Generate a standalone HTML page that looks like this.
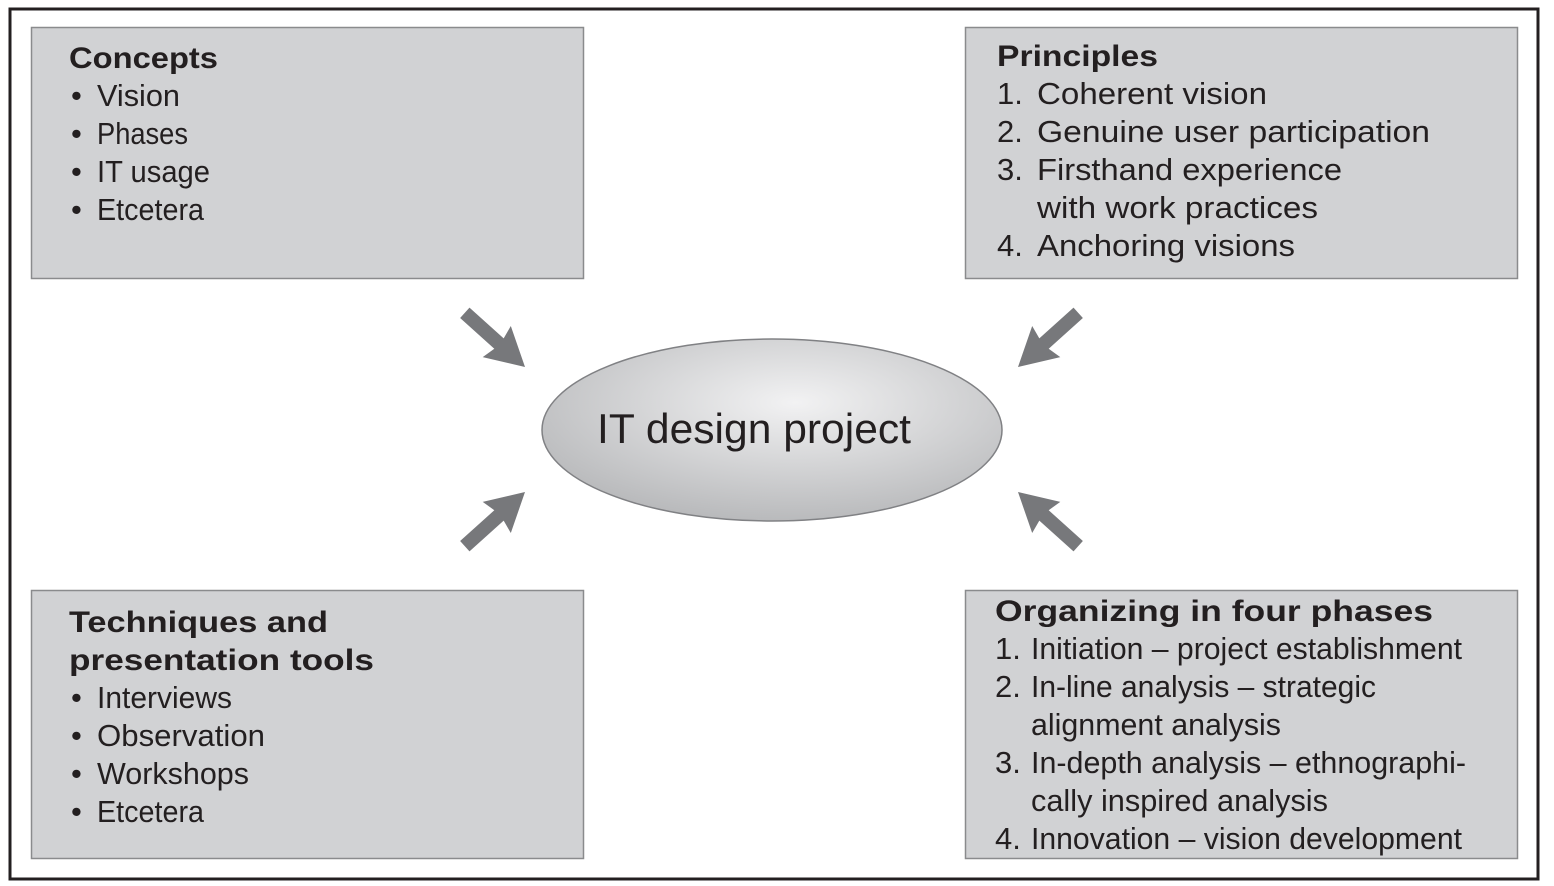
<!DOCTYPE html>
<html><head><meta charset="utf-8"><style>
html,body{margin:0;padding:0;background:#fff;}
svg{display:block;}
text{font-family:"Liberation Sans",sans-serif;fill:#231f20;}
.r{font-size:31px;}
.b{font-size:30px;font-weight:bold;}
</style></head><body>
<svg width="1554" height="886" viewBox="0 0 1554 886" xmlns="http://www.w3.org/2000/svg">
<defs>
<radialGradient id="g" cx="55%" cy="35%" r="65%">
<stop offset="0" stop-color="#f2f2f3"/>
<stop offset="1" stop-color="#b9babc"/>
</radialGradient>
<polygon id="ar" points="-81,-7 -35,-7 -38,-21 0,0 -38,21 -35,7 -81,7" fill="#77787b"/>
</defs>
<rect x="10" y="9" width="1528" height="870" fill="#fff" stroke="#231f20" stroke-width="3"/>
<rect x="31.5" y="27.5" width="552" height="251" fill="#d1d2d4" stroke="#8a8b8d" stroke-width="1.5"/>
<rect x="965.5" y="27.5" width="552" height="251" fill="#d1d2d4" stroke="#8a8b8d" stroke-width="1.5"/>
<rect x="31.5" y="590.5" width="552" height="268" fill="#d1d2d4" stroke="#8a8b8d" stroke-width="1.5"/>
<rect x="965.5" y="590.5" width="552" height="268" fill="#d1d2d4" stroke="#8a8b8d" stroke-width="1.5"/>
<ellipse cx="772" cy="430" rx="230" ry="91" fill="url(#g)" stroke="#808184" stroke-width="1.5"/>
<text x="597" y="443" style="font-size:42px" textLength="314" lengthAdjust="spacingAndGlyphs">IT design project</text>
<use href="#ar" transform="translate(525,367) rotate(42)"/>
<use href="#ar" transform="translate(1018,367) rotate(138)"/>
<use href="#ar" transform="translate(525,492) rotate(-42)"/>
<use href="#ar" transform="translate(1018,492) rotate(-138)"/>

<g lengthAdjust="spacingAndGlyphs">
<text class="b" x="69" y="68" textLength="149" lengthAdjust="spacingAndGlyphs">Concepts</text>
<text class="r" x="71" y="106">•</text><text class="r" x="97" y="106" textLength="83" lengthAdjust="spacingAndGlyphs">Vision</text>
<text class="r" x="71" y="144">•</text><text class="r" x="97" y="144" textLength="91" lengthAdjust="spacingAndGlyphs">Phases</text>
<text class="r" x="71" y="182">•</text><text class="r" x="97" y="182" textLength="113" lengthAdjust="spacingAndGlyphs">IT usage</text>
<text class="r" x="71" y="220">•</text><text class="r" x="97" y="220" textLength="107" lengthAdjust="spacingAndGlyphs">Etcetera</text>

<text class="b" x="997" y="66" textLength="161" lengthAdjust="spacingAndGlyphs">Principles</text>
<text class="r" x="997" y="104">1.</text><text class="r" x="1037" y="104" textLength="230" lengthAdjust="spacingAndGlyphs">Coherent vision</text>
<text class="r" x="997" y="142">2.</text><text class="r" x="1037" y="142" textLength="393" lengthAdjust="spacingAndGlyphs">Genuine user participation</text>
<text class="r" x="997" y="180">3.</text><text class="r" x="1037" y="180" textLength="305" lengthAdjust="spacingAndGlyphs">Firsthand experience</text>
<text class="r" x="1037" y="218" textLength="281" lengthAdjust="spacingAndGlyphs">with work practices</text>
<text class="r" x="997" y="256">4.</text><text class="r" x="1037" y="256" textLength="258" lengthAdjust="spacingAndGlyphs">Anchoring visions</text>

<text class="b" x="69" y="632" textLength="259" lengthAdjust="spacingAndGlyphs">Techniques and</text>
<text class="b" x="69" y="670" textLength="305" lengthAdjust="spacingAndGlyphs">presentation tools</text>
<text class="r" x="71" y="708">•</text><text class="r" x="97" y="708" textLength="135" lengthAdjust="spacingAndGlyphs">Interviews</text>
<text class="r" x="71" y="746">•</text><text class="r" x="97" y="746" textLength="168" lengthAdjust="spacingAndGlyphs">Observation</text>
<text class="r" x="71" y="784">•</text><text class="r" x="97" y="784" textLength="152" lengthAdjust="spacingAndGlyphs">Workshops</text>
<text class="r" x="71" y="822">•</text><text class="r" x="97" y="822" textLength="107" lengthAdjust="spacingAndGlyphs">Etcetera</text>

<text class="b" x="995" y="621" textLength="438" lengthAdjust="spacingAndGlyphs">Organizing in four phases</text>
<text class="r" x="995" y="659">1.</text><text class="r" x="1031" y="659" textLength="431" lengthAdjust="spacingAndGlyphs">Initiation – project establishment</text>
<text class="r" x="995" y="697">2.</text><text class="r" x="1031" y="697" textLength="345" lengthAdjust="spacingAndGlyphs">In-line analysis – strategic</text>
<text class="r" x="1031" y="735" textLength="250" lengthAdjust="spacingAndGlyphs">alignment analysis</text>
<text class="r" x="995" y="773">3.</text><text class="r" x="1031" y="773" textLength="435" lengthAdjust="spacingAndGlyphs">In-depth analysis – ethnographi-</text>
<text class="r" x="1031" y="811" textLength="297" lengthAdjust="spacingAndGlyphs">cally inspired analysis</text>
<text class="r" x="995" y="849">4.</text><text class="r" x="1031" y="849" textLength="431" lengthAdjust="spacingAndGlyphs">Innovation – vision development</text>
</g>
</svg>
</body></html>
